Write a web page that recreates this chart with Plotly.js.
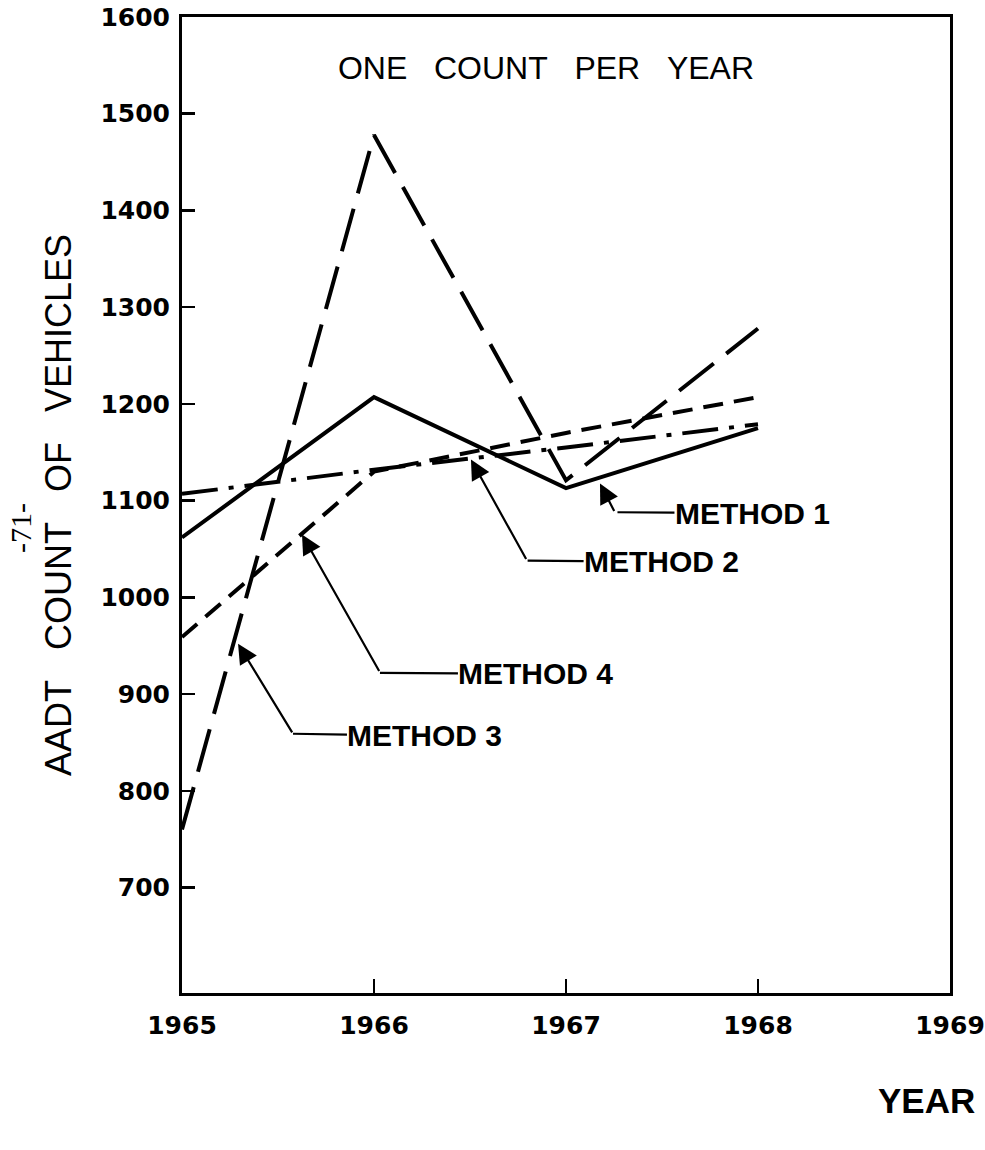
<!DOCTYPE html>
<html>
<head>
<meta charset="utf-8">
<script src="https://cdn.plot.ly/plotly-3.0.1.min.js"></script>
<style>
  html, body { margin: 0; padding: 0; background: #ffffff; }
  #chart { width: 985px; height: 1150px; }
</style>
</head>
<body>
<div id="chart"></div>
<script>
// ---- Data ----
const years = [1965, 1966, 1967, 1968];
const method1 = [1062, 1207, 1113, 1175];   // solid
const method2 = [1107, 1132, 1155, 1179];   // dash-dot
const method3 = [760, 1478, 1121, 1278];    // long dash
const method4 = [959, 1130, 1170, 1207];    // short dash

const xTicks = [1965, 1966, 1967, 1968, 1969];
const yTicks = [700, 800, 900, 1000, 1100, 1200, 1300, 1400, 1500, 1600];

const seriesNames = ['METHOD 1', 'METHOD 2', 'METHOD 3', 'METHOD 4'];

const NBSP = '\u00A0';
const gap = NBSP + NBSP + NBSP;

function lineTrace(name, ys, dash) {
  return {
    x: years, y: ys, name: name, type: 'scatter', mode: 'lines',
    line: { color: '#000000', width: 4, dash: dash },
    hoverinfo: 'x+y+name'
  };
}

const traces = [
  lineTrace(seriesNames[0], method1, 'solid'),
  lineTrace(seriesNames[1], method2, '36px,11px,5px,11px'),
  lineTrace(seriesNames[2], method3, '44px,16px'),
  lineTrace(seriesNames[3], method4, '20px,11px')
];

const labelFont = { family: 'Liberation Sans, Arial, sans-serif', size: 30, color: '#000' };

function pointer(x, y, ax, ay) {
  return {
    x: x, y: y, xref: 'x', yref: 'y', text: '', showarrow: true,
    ax: ax, ay: ay, arrowhead: 2, arrowsize: 1.8, arrowwidth: 2.2, arrowcolor: '#000'
  };
}
function label(text, x, y, ax, ay) {
  return {
    x: x, y: y, xref: 'x', yref: 'y', text: '<b>' + text + '</b>', showarrow: true,
    ax: ax, ay: ay, arrowhead: 0, arrowwidth: 2.2, arrowcolor: '#000',
    font: labelFont, borderpad: 0
  };
}

// plot-area pixel geometry (for paper-referenced text outside the axes)
const plotL = 182, plotW = 768, plotB = 993, plotH = 976;
const paperX = px => (px - plotL) / plotW;
const paperY = py => (plotB - py) / plotH;

const annotations = [
  // Method 1
  pointer(1967.177, 1117.7, 15, 29),
  label(seriesNames[0], 1967.268, 1088, 135, 1),
  // Method 2
  pointer(1966.505, 1142.5, 56, 101),
  label(seriesNames[1], 1966.80, 1038, 134, 1),
  // Method 4
  pointer(1965.625, 1065, 78, 138),
  label(seriesNames[3], 1966.031, 922, 156, 1),
  // Method 3
  pointer(1965.292, 952, 55, 90),
  label(seriesNames[2], 1965.578, 859, 132, 2),
  // x axis title
  {
    x: paperX(926), y: paperY(1100), xref: 'paper', yref: 'paper',
    xanchor: 'center', yanchor: 'middle', showarrow: false,
    text: '<b>YEAR</b>',
    font: { family: 'Liberation Sans, Arial, sans-serif', size: 35, color: '#000' }
  },
  // page number
  {
    x: paperX(20), y: paperY(528), xref: 'paper', yref: 'paper',
    xanchor: 'center', yanchor: 'middle', showarrow: false, textangle: -90,
    text: '-71-',
    font: { family: 'Liberation Serif, serif', size: 30, color: '#000' }
  }
];

const layout = {
  width: 985, height: 1150,
  margin: { l: 182, r: 35, t: 17, b: 157 },
  paper_bgcolor: '#ffffff', plot_bgcolor: '#ffffff',
  showlegend: false,
  title: {
    text: 'ONE' + gap + 'COUNT' + gap + 'PER' + gap + 'YEAR',
    x: 546 / 985, y: 1 - 68 / 1150, xref: 'container', yref: 'container',
    xanchor: 'center', yanchor: 'middle',
    font: { family: 'Liberation Sans, Arial, sans-serif', size: 32, color: '#000' }
  },
  xaxis: {
    range: [1965, 1969], tickvals: xTicks, ticktext: xTicks.map(String),
    showgrid: false, zeroline: false,
    showline: true, mirror: true, linecolor: '#000', linewidth: 3,
    ticks: 'inside', ticklen: 14, tickwidth: 2.5, tickcolor: '#000',
    ticklabelstandoff: 8,
    tickfont: { family: 'DejaVu Sans, sans-serif', size: 25, color: '#000', weight: 'bold' }
  },
  yaxis: {
    range: [591, 1600], tickvals: yTicks, ticktext: yTicks.map(String),
    showgrid: false, zeroline: false,
    showline: true, mirror: true, linecolor: '#000', linewidth: 3,
    ticks: 'inside', ticklen: 13, tickwidth: 2.5, tickcolor: '#000',
    ticklabelstandoff: 4,
    tickfont: { family: 'DejaVu Sans, sans-serif', size: 25, color: '#000', weight: 'bold' },
    title: {
      text: 'AADT' + gap + 'COUNT' + gap + 'OF' + gap + 'VEHICLES',
      standoff: 18,
      font: { family: 'Liberation Sans, Arial, sans-serif', size: 36, color: '#000' }
    }
  },
  annotations: annotations
};

Plotly.newPlot('chart', traces, layout, { displayModeBar: false, staticPlot: true });
</script>
</body>
</html>
